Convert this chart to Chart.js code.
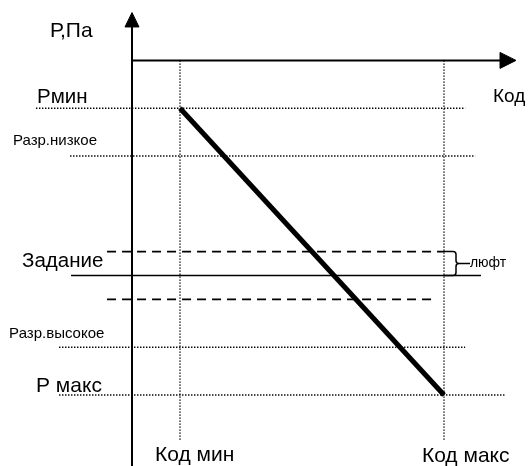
<!DOCTYPE html>
<html>
<head>
<meta charset="utf-8">
<script src="https://cdn.jsdelivr.net/npm/chart.js@4.4.1/dist/chart.umd.min.js"></script>
<style>
  html, body { margin: 0; padding: 0; background: #fff; }
  canvas { display: block; }
</style>
</head>
<body>
<canvas id="chart" width="529" height="466"></canvas>
<script>
// pressure levels (top to bottom on the picture)
const levelNames = ['Рмин', 'Разр.низкое', 'Задание', 'Разр.высокое', 'Р макс'];
const levelValues = [6, 5, 2.5, 1, 0];
// dead band ("люфт") around the setpoint
const backlashValues = [3, 2];
// code range
const codeNames = ['Код мин', 'Код макс'];
const codeValues = [1, 6.5];
// characteristic: Код мин -> Рмин, Код макс -> Р макс
const curveX = [codeValues[0], codeValues[1]];
const curveY = [levelValues[0], levelValues[4]];

// drawing layout (data units)
const axisTop = 8;
const axisRight = 8;
const xAxisLevel = 7;
const levelFrom = [-2, -1.29, -1.27, -1.52, -1.52];
const levelTo = [6.94, 7.15, 7.27, 6.94, 7.77];
const backlashFrom = [-0.52, -0.52];
const backlashTo = [6.5, 6.35];
const codeLineBottom = -0.95;

const FONT = "'Liberation Sans', Arial, sans-serif";

function seg(x1, y1, x2, y2) {
  return [{x: x1, y: y1}, {x: x2, y: y2}];
}

function lineSet(data, width, dash) {
  return {
    data: data,
    borderColor: '#000',
    borderWidth: width,
    borderDash: dash || [],
    pointRadius: 0,
    fill: false,
    tension: 0
  };
}

const datasets = [];

// main characteristic line
datasets.push(lineSet(curveX.map((x, i) => ({x: x, y: curveY[i]})), 5));

// axes
datasets.push(lineSet(seg(0, -1.5, 0, 7.75), 2));
datasets.push(lineSet(seg(0, xAxisLevel, 7.7, xAxisLevel), 2));

// arrow heads
datasets.push({
  data: [{x: -0.146, y: 7.7}, {x: 0, y: axisTop}, {x: 0.146, y: 7.7}, {x: -0.146, y: 7.7}],
  borderColor: '#000', backgroundColor: '#000', borderWidth: 1,
  pointRadius: 0, fill: 'shape'
});
datasets.push({
  data: [{x: 7.667, y: xAxisLevel + 0.167}, {x: axisRight, y: xAxisLevel}, {x: 7.667, y: xAxisLevel - 0.167}, {x: 7.667, y: xAxisLevel + 0.167}],
  borderColor: '#000', backgroundColor: '#000', borderWidth: 1,
  pointRadius: 0, fill: 'shape'
});

// level lines
levelValues.forEach((v, i) => {
  if (levelNames[i] === 'Задание') {
    datasets.push(lineSet(seg(levelFrom[i], v, levelTo[i], v), 1.6));
  } else {
    datasets.push(lineSet(seg(levelFrom[i], v, levelTo[i], v), 1.4, [1.4, 1.6]));
  }
});

// dead band lines
backlashValues.forEach((v, i) => {
  datasets.push(lineSet(seg(backlashFrom[i], v, backlashTo[i], v), 1.6, [9, 6]));
});

// code lines
codeValues.forEach(v => {
  datasets.push(lineSet(seg(v, xAxisLevel, v, codeLineBottom), 1.4, [1.4, 1.6]));
});

const labels = [
  {text: 'Р,Па', x: -1.71, y: 7.62, size: 21},
  {text: levelNames[0], x: -1.98, y: 6.23, size: 20.5},
  {text: levelNames[1], x: -2.48, y: 5.31, size: 15},
  {text: levelNames[2], x: -2.29, y: 2.8, size: 20.5},
  {text: levelNames[3], x: -2.56, y: 1.28, size: 15},
  {text: levelNames[4], x: -2.0, y: 0.19, size: 21},
  {text: 'Код', x: 7.52, y: 6.23, size: 19},
  {text: codeNames[0], x: 0.48, y: -1.26, size: 21},
  {text: codeNames[1], x: 6.04, y: -1.28, size: 21},
  {text: 'люфт', x: 7.04, y: 2.76, size: 14}
];

const annotations = {
  id: 'annotations',
  afterDatasetsDraw(chart) {
    const ctx = chart.ctx;
    const xs = chart.scales.x;
    const ys = chart.scales.y;
    ctx.save();

    // brace for the dead band
    const bx = xs.getPixelForValue(codeValues[1]);
    const top = ys.getPixelForValue(backlashValues[0]);
    const bottom = ys.getPixelForValue(levelValues[2]);
    const mid = (top + bottom) / 2;
    ctx.strokeStyle = '#000';
    ctx.lineWidth = 1.5;
    ctx.beginPath();
    ctx.moveTo(bx, top);
    ctx.lineTo(bx + 9, top);
    ctx.quadraticCurveTo(bx + 12, top, bx + 12, top + 3);
    ctx.lineTo(bx + 12, mid - 3);
    ctx.quadraticCurveTo(bx + 12, mid, bx + 15, mid);
    ctx.lineTo(bx + 26, mid);
    ctx.moveTo(bx + 15, mid);
    ctx.quadraticCurveTo(bx + 12, mid, bx + 12, mid + 3);
    ctx.lineTo(bx + 12, bottom - 3);
    ctx.quadraticCurveTo(bx + 12, bottom, bx + 9, bottom);
    ctx.lineTo(bx, bottom);
    ctx.stroke();

    ctx.fillStyle = '#000';
    ctx.textAlign = 'left';
    ctx.textBaseline = 'middle';
    labels.forEach(l => {
      ctx.font = l.size + 'px ' + FONT;
      ctx.fillText(l.text, xs.getPixelForValue(l.x), ys.getPixelForValue(l.y));
    });
    ctx.restore();
  }
};

new Chart(document.getElementById('chart').getContext('2d'), {
  type: 'line',
  data: {datasets: datasets},
  options: {
    responsive: false,
    animation: false,
    parsing: false,
    layout: {padding: 0},
    plugins: {
      legend: {display: false},
      tooltip: {enabled: false}
    },
    scales: {
      x: {type: 'linear', min: -2.75, max: 8.2708, display: false},
      y: {type: 'linear', min: -1.4854, max: 8.2636, display: false}
    }
  },
  plugins: [annotations]
});
</script>
</body>
</html>
